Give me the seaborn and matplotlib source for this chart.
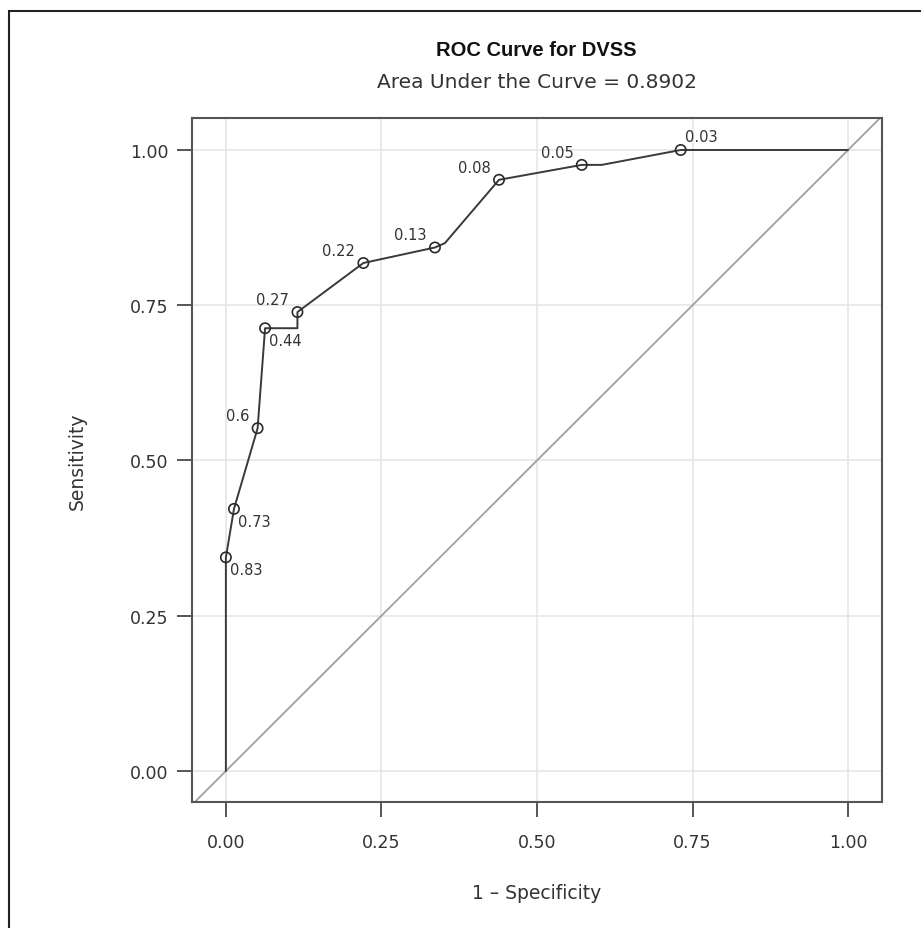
import matplotlib
matplotlib.use("Agg")
import matplotlib.pyplot as plt
import seaborn as sns
import pandas as pd
from matplotlib.patches import Rectangle

# ROC curve vertices (1 - specificity, sensitivity)
fpr = [0.0, 0.0, 0.013, 0.051, 0.063, 0.115, 0.115, 0.221, 0.336, 0.352, 0.439, 0.572, 0.604, 0.731, 1.0]
tpr = [0.0, 0.344, 0.422, 0.552, 0.713, 0.713, 0.739, 0.818, 0.843, 0.850, 0.952, 0.976, 0.976, 1.0, 1.0]

# Labelled cut-off points
cut_fpr = [0.0, 0.013, 0.051, 0.063, 0.115, 0.221, 0.336, 0.439, 0.572, 0.731]
cut_tpr = [0.344, 0.422, 0.552, 0.713, 0.739, 0.818, 0.843, 0.952, 0.976, 1.0]
cut_labels = ["0.83", "0.73", "0.6", "0.44", "0.27", "0.22", "0.13", "0.08", "0.05", "0.03"]
# label placement: 'lr' lower-right, 'ul' upper-left, 'ur' upper-right
cut_pos = ["lr", "lr", "ul", "lr", "ul", "ul", "ul", "ul", "ul", "ur"]

ticks = [0.0, 0.25, 0.5, 0.75, 1.0]
tick_labels = ["0.00", "0.25", "0.50", "0.75", "1.00"]

title = "ROC Curve for DVSS"
subtitle = "Area Under the Curve = 0.8902"

sns.set_theme(style="whitegrid")
plt.rcParams["font.family"] = ["DejaVu Sans"]

fig = plt.figure(figsize=(9.21, 9.29), dpi=100)
ax = fig.add_axes([0.2081, 0.1360, 0.9573 - 0.2081, 0.8719 - 0.1360])

curve = pd.DataFrame({"fpr": fpr, "tpr": tpr})
pts = pd.DataFrame({"fpr": cut_fpr, "tpr": cut_tpr, "lab": cut_labels, "pos": cut_pos})

ax.set_xlim(-0.055, 1.054)
ax.set_ylim(-0.0494, 1.0515)

# chance diagonal
ax.axline((0, 0), (1, 1), color="#a0a0a0", lw=1.3, zorder=2)

sns.lineplot(data=curve, x="fpr", y="tpr", sort=False, estimator=None,
             color="#3a3a3a", lw=1.4, ax=ax, zorder=3)
sns.scatterplot(data=pts, x="fpr", y="tpr", marker="o", s=55,
                facecolor="none", edgecolor="#2a2a2a", linewidth=1.2, ax=ax, zorder=4)

for _, r in pts.iterrows():
    if r["pos"] == "lr":
        off, ha, va = (3, -9), "left", "center"
    elif r["pos"] == "ul":
        off, ha, va = (-6, 9), "right", "center"
    else:
        off, ha, va = (3, 10), "left", "center"
    ax.annotate(r["lab"], (r["fpr"], r["tpr"]), xytext=off, textcoords="offset points",
                ha=ha, va=va, fontsize=10.5, color="#333333", zorder=5)

ax.set_xticks(ticks)
ax.set_xticklabels(tick_labels)
ax.set_yticks(ticks)
ax.set_yticklabels(tick_labels)
ax.grid(True, color="#e6e6e6", lw=1.2)
ax.tick_params(axis="both", which="major", direction="out", length=10.5, width=1.4,
               color="#555555", labelsize=12.5, labelcolor="#333333",
               bottom=True, left=True)
ax.tick_params(axis="x", pad=12)
ax.tick_params(axis="y", pad=6)
for sp in ax.spines.values():
    sp.set_color("#555555")
    sp.set_linewidth(1.5)

ax.set_xlabel("1 \u2013 Specificity", fontsize=13.5, color="#333333", labelpad=23)
ax.set_ylabel("Sensitivity", fontsize=13.5, color="#333333", labelpad=31)

cx = (0.2081 + 0.9573) / 2
fig.text(cx, 1 - 50 / 929, title, ha="center", va="center", fontsize=14.5,
         fontweight="bold", color="#111111",
         family=["Liberation Sans Narrow", "Liberation Sans", "DejaVu Sans"])
fig.text(cx, 1 - 82 / 929, subtitle, ha="center", va="center", fontsize=14.5,
         color="#333333")

fig.patches.append(Rectangle((9 / 921, -0.05), 1.1, 1 - 12 / 929 + 0.05,
                             transform=fig.transFigure, fill=False,
                             edgecolor="#222222", lw=1.5))

fig.savefig("out.png", dpi=100)
